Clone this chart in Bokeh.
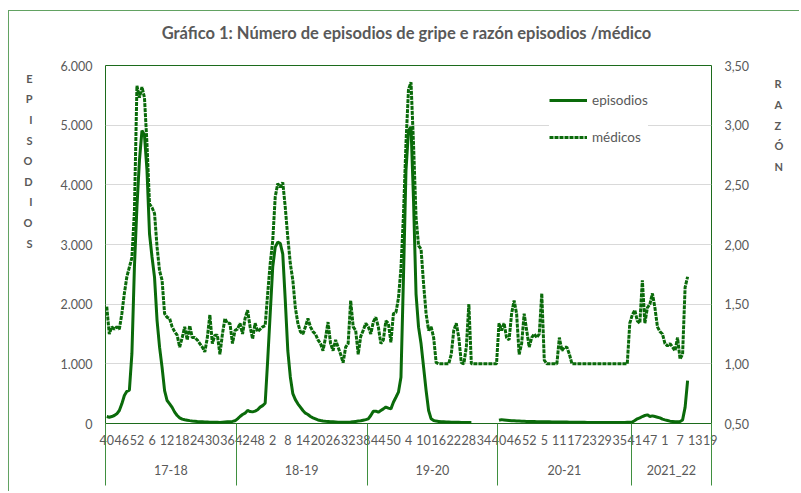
from bokeh.plotting import figure
from bokeh.models import (Range1d, LinearAxis, FixedTicker, Legend, LegendItem,
                          ColumnDataSource, Grid, Title)
from bokeh.embed import file_html
from bokeh.resources import INLINE

nan = float("nan")

# ---------------- data ----------------
temporadas = ["17-18", "18-19", "19-20", "20-21", "2021_22"]

semanas_17_18 = list(range(40, 53)) + list(range(1, 40))
semanas_18_19 = list(range(40, 53)) + list(range(1, 40))
semanas_19_20 = list(range(40, 53)) + list(range(1, 40))
semanas_20_21 = list(range(40, 54)) + list(range(1, 40))
semanas_21_22 = list(range(40, 53)) + list(range(1, 20))

episodios_17_18 = [117, 106, 117, 134, 162, 218, 330, 470, 540, 560,
                   1170, 2620, 3630, 4410, 4910, 4830, 4240, 3180, 2790, 2450,
                   1730, 1280, 940, 550, 385, 330, 270, 190, 134, 95,
                   73, 62, 55, 48, 42, 38, 33, 30, 28, 25,
                   24, 22, 20, 22, 20, 18, 22, 25, 28, 30,
                   35, 45]
episodios_18_19 = [78, 117, 150, 173, 218, 200, 195, 207, 230, 274,
                   300, 340, 1060, 1840, 2620, 2955, 3040, 3020, 2840, 2060,
                   1220, 780, 500, 400, 330, 275, 218, 173, 150, 117,
                   95, 78, 60, 50, 42, 38, 35, 30, 28, 25,
                   22, 22, 20, 20, 22, 25, 30, 35, 40, 45,
                   55, 65]
episodios_19_20 = [78, 134, 207, 207, 190, 218, 245, 275, 257, 245,
                   357, 440, 525, 775, 2450, 4240, 4910, 4970, 3740, 2170,
                   1615, 1335, 945, 553, 218, 78, 50, 40, 35, 30,
                   28, 25, 25, 22, 22, 20, 20, 18, 18, 15,
                   15, 15, nan, nan, nan, nan, nan, nan, nan, nan,
                   nan, nan]
episodios_20_21 = [55, 65, 60, 55, 50, 45, 45, 40, 40, 38,
                   38, 35, 35, 33, 33, 30, 30, 30, 28, 28,
                   28, 27, 25, 25, 25, 25, 24, 24, 23, 22,
                   22, 20, 20, 20, 20, 18, 18, 18, 17, 17,
                   16, 16, 15, 15, 15, 15, 15, 15, 16, 17,
                   18, 20, 22]
episodios_21_22 = [25, 50, 78, 95, 117, 134, 145, 117, 128, 117,
                   106, 95, 73, 61, 50, 39, 34, 28, 28, 34,
                   60, 270, 720, nan, nan, nan, nan, nan, nan, nan,
                   nan, nan]

medicos_17_18 = [1.48, 1.25, 1.31, 1.29, 1.31, 1.29, 1.42, 1.59, 1.73, 1.81,
                 1.89, 2.28, 3.33, 3.23, 3.32, 3.23, 2.84, 2.34, 2.31, 2.26,
                 1.98, 1.78, 1.70, 1.42, 1.39, 1.38, 1.31, 1.27, 1.24, 1.14,
                 1.22, 1.31, 1.20, 1.32, 1.22, 1.22, 1.20, 1.17, 1.14, 1.10,
                 1.22, 1.41, 1.17, 1.24, 1.24, 1.08, 1.25, 1.38, 1.34, 1.34,
                 1.17, 1.28]
medicos_18_19 = [1.29, 1.34, 1.25, 1.38, 1.45, 1.31, 1.21, 1.34, 1.27, 1.29,
                 1.31, 1.32, 1.59, 1.84, 2.03, 2.40, 2.51, 2.48, 2.52, 2.31,
                 2.06, 1.84, 1.70, 1.47, 1.34, 1.27, 1.25, 1.31, 1.38, 1.31,
                 1.27, 1.25, 1.20, 1.17, 1.11, 1.22, 1.35, 1.17, 1.11, 1.20,
                 1.14, 1.08, 1.01, 1.14, 1.17, 1.53, 1.31, 1.28, 1.08, 1.23,
                 1.28, 1.34]
medicos_19_20 = [1.31, 1.25, 1.35, 1.39, 1.31, 1.17, 1.20, 1.36, 1.34, 1.18,
                 1.42, 1.43, 1.55, 1.80, 2.25, 2.85, 3.30, 3.36, 2.84, 2.23,
                 1.99, 1.96, 1.67, 1.42, 1.28, 1.31, 1.22, 1.01, 1.00, 1.00,
                 1.00, 1.00, 1.00, 1.08, 1.28, 1.34, 1.22, 1.01, 1.00, 1.14,
                 1.50, 1.00, 1.00, 1.00, 1.00, 1.00, 1.00, 1.00, 1.00, 1.00,
                 1.00, 1.00]
medicos_20_21 = [1.34, 1.28, 1.34, 1.22, 1.20, 1.42, 1.53, 1.42, 1.08, 1.17,
                 1.42, 1.28, 1.14, 1.22, 1.25, 1.22, 1.25, 1.59, 1.03, 1.00,
                 1.00, 1.00, 1.00, 1.00, 1.22, 1.11, 1.14, 1.14, 1.08, 1.00,
                 1.00, 1.00, 1.00, 1.00, 1.00, 1.00, 1.00, 1.00, 1.00, 1.00,
                 1.00, 1.00, 1.00, 1.00, 1.00, 1.00, 1.00, 1.00, 1.00, 1.00,
                 1.00, 1.00, 1.34]
medicos_21_22 = [1.41, 1.45, 1.36, 1.34, 1.70, 1.34, 1.47, 1.50, 1.59, 1.47,
                 1.31, 1.27, 1.25, 1.17, 1.15, 1.17, 1.14, 1.11, 1.22, 1.04,
                 1.08, 1.64, 1.73, nan, nan, nan, nan, nan, nan, nan,
                 nan, nan]

ticks_episodios = [0, 1000, 2000, 3000, 4000, 5000, 6000]
labels_episodios = ["0", "1.000", "2.000", "3.000", "4.000", "5.000", "6.000"]
ticks_razon = [0.5, 1.0, 1.5, 2.0, 2.5, 3.0, 3.5]
labels_razon = ["0,50", "1,00", "1,50", "2,00", "2,50", "3,00", "3,50"]

titulo = "Gráfico 1: Número de episodios de gripe e razón episodios  /médico"

# ---------------- assemble ----------------
semanas_por_temp = [semanas_17_18, semanas_18_19, semanas_19_20, semanas_20_21, semanas_21_22]
semanas = sum(semanas_por_temp, [])
episodios = (episodios_17_18 + episodios_18_19 + episodios_19_20 +
             episodios_20_21 + episodios_21_22)
medicos = medicos_17_18 + medicos_18_19 + medicos_19_20 + medicos_20_21 + medicos_21_22
idx = list(range(len(semanas)))
n = len(semanas)

bounds = [-0.5]
centres = []
start = 0
for s in semanas_por_temp:
    end = start + len(s)
    bounds.append(end - 0.5)
    centres.append((start + end - 1) / 2)
    start = end

TXT = "#595959"
GREEN = "#0a6a0a"
FONT = "Lato"

src = ColumnDataSource(dict(x=idx, ep=episodios, med=medicos))

p = figure(width=791, height=481, output_backend="svg", toolbar_location=None,
           x_range=Range1d(-0.5, n - 0.5), y_range=Range1d(0, 6000),
           x_axis_type=None, y_axis_type=None,
           min_border_left=96, min_border_right=89,
           min_border_top=54, min_border_bottom=69)
p.extra_y_ranges = {"razon": Range1d(0.5, 3.5)}
p.outline_line_color = "#1c6b1c"
p.outline_line_width = 1
p.background_fill_color = "white"
p.border_fill_color = "white"
p.styles = {"margin-left": "8px", "margin-top": "10px",
            "border-left": "1px solid #62a262", "border-top": "1px solid #62a262"}

# titles: a thin spacer next to the frame, the real title outside it
p.title = None
p.add_layout(Title(text=" ", text_font_size="2px", standoff=18), "above")
p.add_layout(Title(text=titulo, align="center", text_font=FONT,
                   text_font_style="bold", text_font_size="16.5px",
                   text_color=TXT, standoff=0, vertical_align="middle"), "above")

# grid
p.add_layout(Grid(dimension=1, ticker=FixedTicker(ticks=ticks_episodios),
                  grid_line_color="#d9d9d9", grid_line_width=1))


def style_axis(ax, size="12.5px", bold=False, standoff=13):
    ax.axis_line_color = None
    ax.major_tick_in = 0
    ax.major_tick_out = 0
    ax.major_tick_line_color = None
    ax.minor_tick_line_color = None
    ax.minor_tick_in = 0
    ax.minor_tick_out = 0
    ax.major_label_text_font = FONT
    ax.major_label_text_font_size = size
    ax.major_label_text_color = TXT
    ax.major_label_standoff = standoff
    if bold:
        ax.major_label_text_font_style = "bold"


# bottom: week numbers
week_ticks = list(range(0, n, 6))
ax_w = LinearAxis(ticker=FixedTicker(ticks=week_ticks),
                  major_label_overrides={t: str(semanas[t]) for t in week_ticks})
style_axis(ax_w, standoff=11)
p.add_layout(ax_w, "below")

# bottom: seasons, with the separators drawn as minor ticks
ax_t = LinearAxis(ticker=FixedTicker(ticks=centres, minor_ticks=bounds),
                  major_label_overrides={c: t for c, t in zip(centres, temporadas)})
style_axis(ax_t, standoff=-23)
ax_t.minor_tick_line_color = "#3f8f3f"
ax_t.minor_tick_line_width = 1
ax_t.minor_tick_in = 24
ax_t.minor_tick_out = 38
p.add_layout(ax_t, "below")

# left: episodios
ax_l = LinearAxis(ticker=FixedTicker(ticks=ticks_episodios),
                  major_label_overrides=dict(zip(ticks_episodios, labels_episodios)))
style_axis(ax_l, standoff=13)
p.add_layout(ax_l, "left")

letters_l = list("EPISODIOS")
pos_l = [5787, 5442, 5097, 4751, 4406, 4060, 3715, 3370, 3025]
ax_ll = LinearAxis(ticker=FixedTicker(ticks=pos_l),
                   major_label_overrides=dict(zip(pos_l, letters_l)))
style_axis(ax_ll, size="11px", bold=True, standoff=25)
p.add_layout(ax_ll, "left")

# right: razón
ax_r = LinearAxis(y_range_name="razon", ticker=FixedTicker(ticks=ticks_razon),
                  major_label_overrides=dict(zip(ticks_razon, labels_razon)))
style_axis(ax_r, standoff=13)
p.add_layout(ax_r, "right")

letters_r = ["R", "A", "Z", "Ó", "N"]
pos_r = [3.347, 3.174, 3.001, 2.828, 2.655]
ax_rl = LinearAxis(y_range_name="razon", ticker=FixedTicker(ticks=pos_r),
                   major_label_overrides=dict(zip(pos_r, letters_r)))
style_axis(ax_rl, size="11px", bold=True, standoff=22)
p.add_layout(ax_rl, "right")

# lines
r_ep = p.line("x", "ep", source=src, line_color=GREEN, line_width=3)
r_med = p.line("x", "med", source=src, y_range_name="razon", line_color=GREEN,
               line_width=3, line_dash="4 1")

legend = Legend(items=[LegendItem(label="episodios", renderers=[r_ep]),
                       LegendItem(label="médicos", renderers=[r_med])],
                location=(444, 276), orientation="vertical",
                border_line_color=None, background_fill_color="white",
                background_fill_alpha=1.0,
                label_text_font=FONT, label_text_font_size="13.5px",
                label_text_color=TXT, glyph_width=38, glyph_height=20,
                label_height=20, spacing=17, padding=14, margin=0,
                label_standoff=5)
p.add_layout(legend)

open("out.html", "w").write(file_html(p, INLINE))
